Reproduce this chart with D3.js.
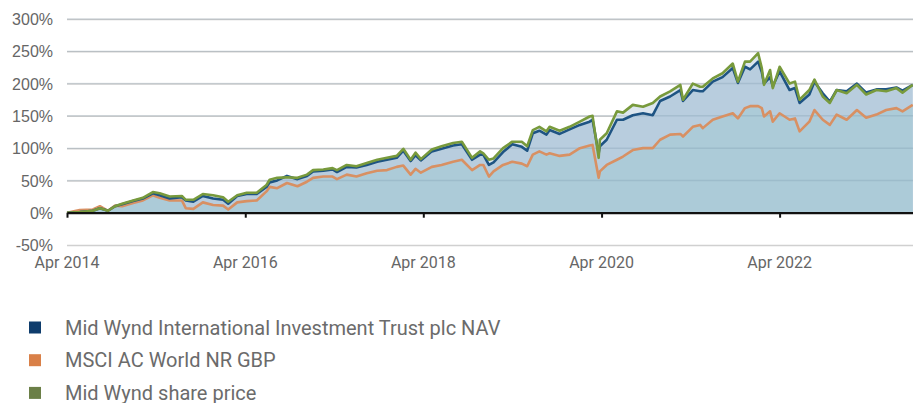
<!DOCTYPE html>
<html>
<head>
<meta charset="utf-8">
<script src="https://cdn.jsdelivr.net/npm/d3@7"></script>
<style>
  body { margin: 0; background: #fff; }
  svg { display: block; font-family: Roboto, "Liberation Sans", sans-serif; }
</style>
</head>
<body>
<svg width="913" height="403"></svg>
<script>
// % total return since Apr 2014
var dates = ['2014-04-01','2014-05-23','2014-07-16','2014-08-14','2014-09-16','2014-10-15','2014-11-13','2014-12-28',
  '2015-02-06','2015-03-19','2015-04-16','2015-05-27','2015-07-16','2015-08-01','2015-09-01','2015-10-10','2015-11-21',
  '2016-01-01','2016-01-22','2016-02-28','2016-04-07','2016-05-18','2016-06-27','2016-07-10','2016-08-10','2016-09-19',
  '2016-11-01','2016-12-10','2017-01-04','2017-02-15','2017-03-25','2017-04-12','2017-05-22','2017-07-01','2017-08-12',
  '2017-09-24','2017-11-03','2017-12-13','2018-01-09','2018-02-08','2018-02-28','2018-03-22','2018-05-06','2018-06-15',
  '2018-08-01','2018-09-06','2018-10-18','2018-11-20','2018-12-03','2018-12-26','2019-01-14','2019-02-22','2019-04-01',
  '2019-05-10','2019-06-01','2019-06-24','2019-07-21','2019-08-19','2019-09-01','2019-10-12','2019-11-22','2020-01-03',
  '2020-02-12','2020-02-24','2020-03-20','2020-03-25','2020-04-22','2020-06-03','2020-06-28','2020-08-07','2020-09-18',
  '2020-10-28','2020-11-27','2021-01-07','2021-02-18','2021-03-01','2021-04-10','2021-05-10','2021-05-21','2021-07-01',
  '2021-08-10','2021-09-21','2021-10-12','2021-11-10','2021-12-01','2022-01-03','2022-01-18','2022-01-27','2022-02-21',
  '2022-03-04','2022-04-01','2022-05-12','2022-06-03','2022-06-22','2022-08-01','2022-08-22','2022-09-25','2022-10-24',
  '2022-11-21','2023-01-01','2023-02-12','2023-03-22','2023-05-03','2023-06-12','2023-07-24','2023-08-18','2023-09-29'];

var navValues = [0,1,3,7,3,10,13,18,22,30,27,22,24,19,17,26,22,20,14,26,29,29,40,47,50,57,52,57,64,65,67,63,71,70,74,
  79,82,85,96,80,89,81,95,99,104,106,82,90,90,74,78,94,106,102,96,123,127,121,128,122,129,136,141,144,92,103,113,144,144,
  151,154,151,173,180,190,173,190,188,188,203,210,224,201,226,222,234,218,200,210,196,219,190,193,170,183,203,185,172,
  190,188,200,186,191,191,194,189,198];

var msciValues = [0,4,5,10,3,11,10,15,19,27,23,19,19,7,6,16,12,11,5,16,18,19,33,40,38,46,41,48,54,56,56,52,59,56,61,
  65,66,71,73,59,68,62,71,74,79,82,66,74,74,56,64,74,79,76,72,90,95,90,92,88,90,100,104,105,54,64,74,82,87,
  97,100,100,113,121,122,118,133,136,131,144,149,154,146,162,165,165,162,149,157,141,154,144,146,126,141,159,144,136,
  152,144,159,147,152,159,162,157,167];

var shareValues = [0,1,3,7,3,10,14,19,23,32,30,25,26,20,20,29,27,24,17,27,31,31,43,51,54,55,54,59,66,67,69,66,74,72,77,
  82,85,88,99,82,93,83,98,103,108,110,85,95,92,82,84,100,110,110,103,128,133,126,133,127,133,141,149,150,85,113,123,157,155,
  167,164,170,180,188,198,175,200,195,195,208,216,231,203,234,234,247,224,198,221,193,226,200,203,175,190,206,180,170,
  190,185,198,183,190,188,193,186,198];

var yTicks = [-50, 0, 50, 100, 150, 200, 250, 300];
var xTickDates = ['2014-04-01','2016-04-01','2018-04-01','2020-04-01','2022-04-01'];

var seriesNames = ['Mid Wynd International Investment Trust plc NAV', 'MSCI AC World NR GBP', 'Mid Wynd share price'];
var legendColors = ['#0e3c6c', '#d98048', '#6b7f47'];

var parse = d3.timeParse('%Y-%m-%d');
var rows = dates.map(function(d, i) {
  return { date: parse(d), nav: navValues[i], msci: msciValues[i], share: shareValues[i] };
});

var svg = d3.select('svg');

var x = d3.scaleTime().domain([parse('2014-04-01'), parse('2023-09-30')]).range([67, 913]);
var y = d3.scaleLinear().domain([-50, 300]).range([245, 19]);

// gridlines
var grid = svg.append('g')
  .attr('transform', 'translate(67,0)')
  .call(d3.axisLeft(y).tickValues(yTicks).tickSize(-846).tickFormat(function(d){ return d + '%'; }));
grid.select('.domain').remove();
grid.selectAll('.tick line').attr('stroke', '#d0d0d0').attr('stroke-width', 1.5);
grid.selectAll('.tick text')
  .attr('x', -14).attr('dy', '0.35em')
  .attr('fill', '#666').attr('font-size', 16);

function area(key) {
  return d3.area().x(function(d){ return x(d.date); }).y0(y(0)).y1(function(d){ return y(d[key]); });
}
function line(key) {
  return d3.line().x(function(d){ return x(d.date); }).y(function(d){ return y(d[key]); });
}

svg.append('path').datum(rows).attr('d', area('share')).attr('fill', '#d6e2eb').attr('fill-opacity', 0.85);
svg.append('path').datum(rows).attr('d', area('nav')).attr('fill', '#b4cadc').attr('fill-opacity', 0.9);
svg.append('path').datum(rows).attr('d', area('msci')).attr('fill', '#abcbd7').attr('fill-opacity', 0.9);

// grid shows faintly through the fill
svg.append('g').selectAll('line')
  .data(yTicks.filter(function(v){ return v > 0; }))
  .enter().append('line')
  .attr('x1', 67).attr('x2', 913)
  .attr('y1', function(d){ return y(d); }).attr('y2', function(d){ return y(d); })
  .attr('stroke', '#5a7a90').attr('stroke-opacity', 0.18).attr('stroke-width', 1.5);

svg.append('path').datum(rows).attr('d', line('msci'))
  .attr('fill', 'none').attr('stroke', '#d89063').attr('stroke-width', 2.6).attr('stroke-linejoin', 'round');
svg.append('path').datum(rows).attr('d', line('nav'))
  .attr('fill', 'none').attr('stroke', '#1e5483').attr('stroke-width', 2.6).attr('stroke-linejoin', 'round');
svg.append('path').datum(rows).attr('d', line('share'))
  .attr('fill', 'none').attr('stroke', '#789a3c').attr('stroke-width', 2.6).attr('stroke-linejoin', 'round');

// zero axis with ticks
var xAxis = svg.append('g')
  .attr('transform', 'translate(0,' + y(0) + ')')
  .call(d3.axisBottom(x).tickValues(xTickDates.map(parse)).tickSize(5).tickSizeOuter(0).tickFormat(''));
xAxis.select('.domain').attr('stroke', '#111').attr('stroke-width', 2.2);
xAxis.selectAll('.tick line').attr('stroke', '#111').attr('stroke-width', 2);

svg.append('g').selectAll('text')
  .data(xTickDates.map(parse))
  .enter().append('text')
  .attr('x', function(d){ return x(d); })
  .attr('y', 268)
  .attr('text-anchor', 'middle')
  .attr('fill', '#666').attr('font-size', 16)
  .text(d3.timeFormat('%b %Y'));

// legend
var legend = svg.append('g').selectAll('g')
  .data(seriesNames)
  .enter().append('g')
  .attr('transform', function(d, i){ return 'translate(29,' + (327.5 + i * 32.7) + ')'; });
legend.append('rect')
  .attr('x', 0).attr('y', -6).attr('width', 12).attr('height', 12)
  .attr('fill', function(d, i){ return legendColors[i]; });
legend.append('text')
  .attr('x', 36).attr('y', 7)
  .attr('fill', '#6b6b6b').attr('font-size', 20)
  .text(function(d){ return d; });
</script>
</body>
</html>
